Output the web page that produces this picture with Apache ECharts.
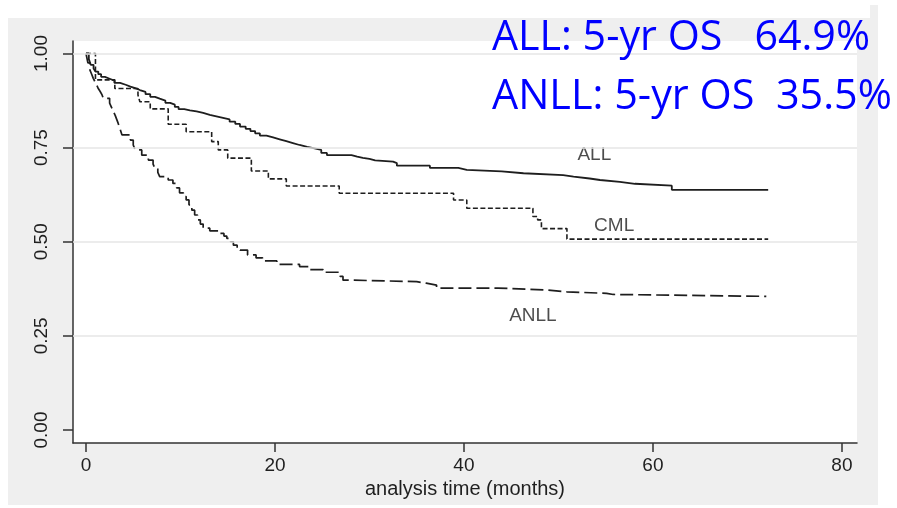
<!DOCTYPE html>
<html>
<head>
<meta charset="utf-8">
<script src="https://cdn.jsdelivr.net/npm/echarts/dist/echarts.min.js"></script>
<style>
  html, body { margin: 0; padding: 0; background: #ffffff; }
  #panel { position: absolute; left: 8px; top: 18px; width: 870px; height: 487px; background: #efefef; }
  #notch { position: absolute; left: 870px; top: 5px; width: 8px; height: 13px; background: #efefef; }
  #chart { position: absolute; left: 0; top: 0; width: 897px; height: 508px; }
</style>
</head>
<body>
<div id="panel"></div>
<div id="notch"></div>
<div id="chart"></div>
<script>
// Kaplan-Meier overall survival by diagnosis, time in months.
// Each point is [time of event, survival after the event]; drawn as steps.
const allCurve = [
  [0, 1.0], [0.3, 0.985], [0.5, 0.97], [0.8, 0.96], [1.0, 0.952], [1.3, 0.945],
  [1.6, 0.938], [2.0, 0.933], [2.5, 0.928], [3.0, 0.922], [3.6, 0.917], [4.2, 0.912],
  [4.7, 0.908], [5.2, 0.903], [5.7, 0.898], [6.3, 0.892], [6.8, 0.885], [7.3, 0.880],
  [7.8, 0.875], [8.4, 0.869], [8.9, 0.864], [9.4, 0.858], [9.8, 0.852], [10.4, 0.849],
  [11.0, 0.846], [11.7, 0.842], [12.4, 0.837], [13.1, 0.833], [13.8, 0.829], [14.5, 0.825],
  [15.2, 0.819], [15.8, 0.813], [16.3, 0.806], [16.9, 0.800], [17.4, 0.794], [17.9, 0.788],
  [18.4, 0.782], [19.1, 0.777], [19.8, 0.772], [20.5, 0.767], [21.2, 0.762], [21.9, 0.757],
  [22.6, 0.752], [23.4, 0.748], [24.2, 0.744], [24.9, 0.736], [25.5, 0.730], [28.1, 0.726],
  [28.7, 0.723], [29.3, 0.720], [30.0, 0.716], [30.6, 0.713], [32.5, 0.709], [32.9, 0.702],
  [36.4, 0.696], [39.4, 0.691], [40.3, 0.687], [44.0, 0.682], [46.3, 0.677], [50.5, 0.673],
  [51.6, 0.668], [53.3, 0.664], [54.4, 0.659], [56.5, 0.654], [58.1, 0.649], [62.0, 0.638],
  [72.2, 0.638]
];

const cmlCurve = [
  [0, 1.0], [1.0, 0.93], [3.05, 0.907], [5.5, 0.89], [5.7, 0.872], [6.8, 0.853],
  [8.7, 0.812], [10.6, 0.792], [13.3, 0.766], [14.0, 0.744], [15.0, 0.722], [17.5, 0.688],
  [19.3, 0.667], [21.2, 0.648], [26.8, 0.629], [38.9, 0.611], [40.3, 0.589], [47.3, 0.567],
  [47.8, 0.558], [48.2, 0.535], [50.9, 0.507], [72.2, 0.507]
];

const anllCurve = [
  [0, 1.0], [0.2, 0.975], [0.42, 0.956], [0.6, 0.945], [0.77, 0.934], [0.95, 0.925],
  [1.13, 0.916], [1.3, 0.907], [1.5, 0.899], [1.7, 0.89], [1.83, 0.881], [2.5, 0.868],
  [2.7, 0.857], [2.9, 0.846], [3.1, 0.835], [3.25, 0.825], [3.4, 0.815], [3.6, 0.80],
  [3.8, 0.784], [4.7, 0.770], [5.0, 0.757], [5.2, 0.744], [5.9, 0.730], [6.6, 0.717],
  [7.1, 0.706], [7.3, 0.695], [7.6, 0.684], [7.8, 0.673], [8.7, 0.664], [9.2, 0.655],
  [9.6, 0.643], [9.9, 0.630], [10.3, 0.620], [10.6, 0.611], [10.9, 0.598], [11.2, 0.584],
  [11.5, 0.571], [11.8, 0.558], [12.1, 0.547], [12.4, 0.536], [13.1, 0.529], [14.2, 0.522],
  [14.6, 0.515], [14.9, 0.509], [15.3, 0.500], [15.6, 0.491], [16.0, 0.484], [16.3, 0.478],
  [17.1, 0.465], [18.0, 0.457], [18.7, 0.449], [20.2, 0.440], [22.6, 0.434], [23.7, 0.426],
  [25.1, 0.419], [26.9, 0.408], [27.2, 0.398], [28.3, 0.394], [35.0, 0.390], [36.0, 0.385],
  [37.1, 0.377], [43.6, 0.372], [48.7, 0.367], [50.9, 0.363], [55.1, 0.360], [55.8, 0.355],
  [72.0, 0.355]
];

// Curve names written next to each curve: [time, survival, text]
const curveLabels = [
  [53.8, 0.730, 'ALL'],
  [55.9, 0.543, 'CML'],
  [47.3, 0.304, 'ANLL']
];

const xTicks = [0, 20, 40, 60, 80];
const yTicks = [0, 0.25, 0.5, 0.75, 1];
const yGridLines = [0.25, 0.5, 0.75, 1];

const summaryLines = ['ALL: 5-yr OS   64.9%', 'ANLL: 5-yr OS  35.5%'];

const axisColor = '#333333';
const textColor = '#1f1f1f';
const curveColor = '#1e1e1e';
const tickFont = 'Liberation Sans';

// Fit each summary line to its width by stretching horizontally.
const summaryFont = '42px "Open Sans"';
const summaryWidths = [378, 400];
const measureCtx = document.createElement('canvas').getContext('2d');
measureCtx.font = summaryFont;
const summaryScale = summaryLines.map((s, i) => summaryWidths[i] / measureCtx.measureText(s).width);

const chart = echarts.init(document.getElementById('chart'), null, { renderer: 'canvas' });

chart.setOption({
  animation: false,
  backgroundColor: 'transparent',
  grid: {
    left: 73, right: 40, top: 41, bottom: 65,
    show: true, backgroundColor: '#ffffff', borderWidth: 0
  },
  xAxis: {
    type: 'value',
    min: -1.376, max: 81.6,
    name: 'analysis time (months)',
    nameLocation: 'middle',
    nameGap: 36,
    nameTextStyle: { fontFamily: tickFont, fontSize: 20, color: textColor },
    axisLine: { show: true, onZero: false, lineStyle: { color: axisColor, width: 1.5 } },
    axisTick: { show: true, length: 9, customValues: xTicks, lineStyle: { color: axisColor, width: 1.5 } },
    axisLabel: {
      customValues: xTicks, margin: 13,
      fontFamily: tickFont, fontSize: 19, color: textColor,
      formatter: v => String(v)
    },
    splitLine: { show: false }
  },
  yAxis: {
    type: 'value',
    min: -0.0345, max: 1.0332,
    axisLine: { show: true, onZero: false, lineStyle: { color: axisColor, width: 1.5 } },
    axisTick: { show: true, length: 10, customValues: yTicks, lineStyle: { color: axisColor, width: 1.5 } },
    axisLabel: {
      customValues: yTicks, rotate: 90, margin: 22,
      fontFamily: tickFont, fontSize: 19, color: textColor,
      formatter: v => v.toFixed(2)
    },
    splitLine: { show: false }
  },
  series: [
    {
      name: 'grid',
      type: 'line',
      data: [],
      silent: true,
      z: 1,
      markLine: {
        silent: true,
        symbol: 'none',
        label: { show: false },
        lineStyle: { color: '#e6e6e6', width: 1.5, type: 'solid' },
        data: yGridLines.map(v => ({ yAxis: v }))
      }
    },
    {
      name: 'ALL',
      type: 'line',
      step: 'end',
      showSymbol: false,
      z: 3,
      data: allCurve,
      lineStyle: { color: curveColor, width: 1.8, type: 'solid' }
    },
    {
      name: 'CML',
      type: 'line',
      step: 'end',
      showSymbol: false,
      z: 3,
      data: cmlCurve,
      lineStyle: { color: curveColor, width: 1.6, type: [5, 2.5] }
    },
    {
      name: 'ANLL',
      type: 'line',
      step: 'end',
      showSymbol: false,
      z: 3,
      data: anllCurve,
      lineStyle: { color: curveColor, width: 1.7, type: [13, 5] }
    },
    {
      name: 'labels',
      type: 'scatter',
      symbolSize: 0,
      silent: true,
      z: 4,
      data: curveLabels,
      label: {
        show: true,
        position: 'inside',
        formatter: p => p.value[2],
        fontFamily: tickFont, fontSize: 19, color: textColor
      }
    }
  ],
  graphic: summaryLines.map((s, i) => ({
    type: 'text',
    x: 492,
    y: i === 0 ? 38 : 97,
    scaleX: summaryScale[i],
    z: 10,
    style: {
      text: s,
      font: summaryFont,
      fill: '#0000ff',
      align: 'left',
      verticalAlign: 'middle'
    }
  }))
});
</script>
</body>
</html>
